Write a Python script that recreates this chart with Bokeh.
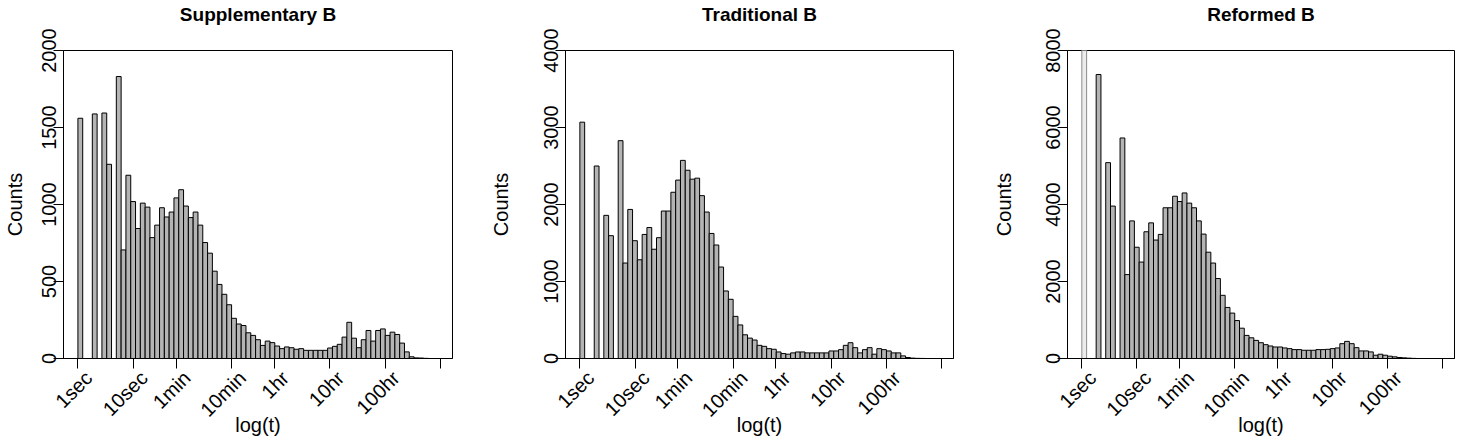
import numpy as np
from bokeh.plotting import figure
from bokeh.models import Range1d, FixedTicker, ColumnDataSource, LinearAxis
from bokeh.layouts import row
from bokeh.embed import file_html
from bokeh.resources import INLINE

# histogram bins on a natural-log time axis: breaks 0 .. 15, width 0.2
break_start = 0.0
break_end = 15.0
bin_width = 0.2

counts_supplementary = [
    1560, 0, 0, 1588, 0, 1594, 1261, 0, 1831, 705,
    1190, 1019, 844, 1009, 983, 785, 866, 979, 919, 951,
    1043, 1096, 990, 915, 951, 866, 753, 684, 567, 481,
    417, 349, 261, 224, 214, 167, 150, 122, 85, 113,
    103, 81, 64, 75, 70, 60, 64, 53, 53, 53,
    53, 53, 68, 79, 92, 139, 235, 132, 70, 122,
    182, 113, 182, 192, 150, 171, 156, 100, 43, 11,
    4, 3, 1, 0, 0]

counts_traditional = [
    3069, 0, 0, 2500, 0, 1859, 1595, 0, 2829, 1240,
    1936, 1530, 1282, 1611, 1701, 1419, 1569, 1915, 1915, 2159,
    2317, 2573, 2445, 2329, 2342, 2115, 1902, 1624, 1474, 1188,
    877, 769, 547, 436, 308, 265, 240, 171, 158, 128,
    120, 85, 64, 56, 73, 85, 85, 73, 73, 73,
    73, 73, 98, 98, 115, 171, 205, 141, 73, 115,
    141, 56, 128, 115, 98, 73, 73, 34, 13, 5,
    2, 1, 0, 0, 0]

counts_reformed = [
    9500, 0, 0, 7377, 0, 5087, 3959, 0, 5728, 2179,
    3574, 2890, 2505, 3292, 3523, 3077, 3223, 3915, 3915, 4215,
    4077, 4300, 4036, 3915, 3574, 3231, 2761, 2479, 2077, 1641,
    1326, 1179, 985, 787, 600, 538, 470, 410, 359, 325,
    299, 299, 274, 256, 231, 231, 214, 214, 214, 231,
    231, 239, 256, 274, 385, 444, 385, 282, 197, 197,
    171, 85, 111, 85, 60, 43, 26, 17, 9, 3,
    0, 0, 0, 0, 0]

titles = ["Supplementary B", "Traditional B", "Reformed B"]
y_max = [2000, 4000, 8000]
y_ticks = [[0, 500, 1000, 1500, 2000],
           [0, 1000, 2000, 3000, 4000],
           [0, 2000, 4000, 6000, 8000]]

tick_seconds = [1, 10, 60, 600, 3600, 36000, 360000, 3600000]
tick_labels = ["1sec", "10sec", "1min", "10min", "1hr", "10hr", "100hr", ""]

FONT = "Liberation Sans"
FS = "20px"
TITLE_FS = "19px"

# layout (pixels)
fig_widths = [473, 502, 483]
left_borders = [63, 92, 92]
right_borders = [21, 22, 4]
ylabel_standoffs = [13, 29, 28]
YTICK_STANDOFF = -2
FIG_H = 438
TOP = 50
BOTTOM = 76
TITLE_GAP = 26          # spacer between frame top and title
X_START, X_END = -0.6, 15.6
LABEL_SHIFT = 0.45      # rotated tick labels sit a little right of their ticks

n_bins = int(round((break_end - break_start) / bin_width))
edges = break_start + bin_width * np.arange(n_bins + 1)
xticks = [float(v) for v in np.log(tick_seconds)]
overrides = {xt: lab for xt, lab in zip(xticks, tick_labels)}


def style_text(ax):
    ax.major_label_text_font = FONT
    ax.major_label_text_font_size = FS
    ax.major_label_text_color = "black"
    ax.axis_label_text_font = FONT
    ax.axis_label_text_font_size = FS
    ax.axis_label_text_font_style = "normal"
    ax.axis_label_text_color = "black"


all_counts = [counts_supplementary, counts_traditional, counts_reformed]
figs = []
for i in range(3):
    counts = np.array(all_counts[i], dtype=float)
    over = counts > y_max[i]
    src = ColumnDataSource(dict(
        left=edges[:-1], right=edges[1:], top=counts,
        fill=["#ececec" if o else "#b4b4b4" for o in over],
        line=["#8c8c8c" if o else "black" for o in over],
    ))
    p = figure(width=fig_widths[i], height=FIG_H, output_backend="svg",
               toolbar_location=None,
               x_axis_location=None, y_axis_location=None,
               x_range=Range1d(X_START, X_END), y_range=Range1d(0, y_max[i]),
               min_border_left=left_borders[i], min_border_right=right_borders[i],
               min_border_top=TOP, min_border_bottom=BOTTOM)
    p.extra_x_ranges = {"lab": Range1d(X_START - LABEL_SHIFT, X_END - LABEL_SHIFT)}
    p.quad(left="left", right="right", bottom=0, top="top", source=src,
           fill_color="fill", line_color="line", line_width=1)

    p.xgrid.visible = False
    p.ygrid.visible = False
    p.outline_line_color = "black"
    p.outline_line_width = 1
    p.background_fill_color = "white"
    p.border_fill_color = "white"

    # invisible spacer above the frame so the title sits higher
    spacer = LinearAxis(ticker=FixedTicker(ticks=[(X_START + X_END) / 2]))
    spacer.axis_line_color = None
    spacer.major_tick_line_color = None
    spacer.minor_tick_line_color = None
    spacer.major_tick_in = 0
    spacer.major_tick_out = TITLE_GAP
    spacer.minor_tick_out = 0
    spacer.major_label_text_color = None
    spacer.major_label_text_font_size = "1px"
    spacer.major_label_standoff = 0
    p.add_layout(spacer, "above")

    p.title.text = titles[i]
    p.title.align = "center"
    p.title.text_font = FONT
    p.title.text_font_size = TITLE_FS
    p.title.text_font_style = "bold"
    p.title.text_color = "black"
    p.title.standoff = 0

    # primary x axis: ticks only
    xa = LinearAxis(ticker=FixedTicker(ticks=xticks))
    xa.major_label_text_color = None
    xa.major_label_text_font_size = "1px"
    xa.major_label_standoff = 0
    xa.minor_tick_line_color = None
    xa.major_tick_in = 0
    xa.major_tick_out = 10
    xa.axis_line_color = "black"
    xa.major_tick_line_color = "black"
    p.add_layout(xa, "below")

    # label axis (no line / ticks), slightly shifted
    xb = LinearAxis(x_range_name="lab", ticker=FixedTicker(ticks=xticks),
                    major_label_overrides=overrides,
                    major_label_orientation=np.pi / 4,
                    axis_label="log(t)")
    xb.axis_line_color = None
    xb.major_tick_line_color = None
    xb.minor_tick_line_color = None
    xb.major_tick_in = 0
    xb.major_tick_out = 0
    xb.major_label_standoff = 6
    xb.axis_label_standoff = -18
    style_text(xb)
    p.add_layout(xb, "below")

    ya = LinearAxis(ticker=FixedTicker(ticks=y_ticks[i]))
    ya.major_label_orientation = "vertical"
    ya.axis_label = "Counts"
    ya.axis_label_standoff = ylabel_standoffs[i]
    ya.major_label_standoff = YTICK_STANDOFF
    ya.minor_tick_line_color = None
    ya.major_tick_in = 0
    ya.major_tick_out = 10
    ya.axis_line_color = "black"
    ya.major_tick_line_color = "black"
    style_text(ya)
    p.add_layout(ya, "left")
    figs.append(p)

layout = row(*figs)
open("out.html", "w").write(file_html(layout, INLINE))
